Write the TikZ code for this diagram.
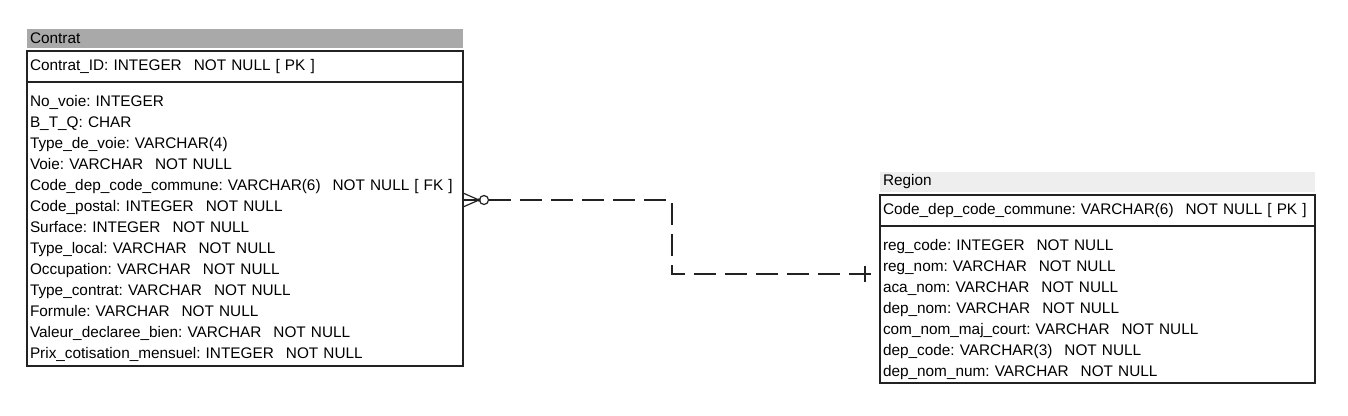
\documentclass[tikz,border=0pt]{standalone}
\usepackage{fontspec}
\setmainfont{Liberation Sans}
\usepackage{xcolor}
\usepackage{tikz}
\usetikzlibrary{positioning}

\definecolor{hdrdark}{HTML}{A9A9A9}
\definecolor{hdrlight}{HTML}{EEEEEE}
\definecolor{edge}{HTML}{222222}

% gaps between column parts, as the modelling tool prints them
\newcommand{\nullgap}{\hspace{12pt}}
\newcommand{\keygap}{\hspace{5pt}}
% first-row strut, pushes the column list down a little
\newcommand{\toprow}{\rule{0pt}{21pt}}

\begin{document}
\frenchspacing
\begin{tikzpicture}[
    x=1pt, y=-1pt,
    font=\fontsize{15.35}{21}\selectfont,
    node distance=3pt,
    tblhead/.style={anchor=north west, inner xsep=3pt, inner ysep=0pt,
                    outer sep=0pt, minimum height=19pt, text width=#1,
                    align=left},
    tblbox/.style={draw=edge, line width=1.3pt, inner xsep=3pt,
                   inner ysep=0pt, outer sep=0pt, text width=#1,
                   align=left},
    rel/.style={draw=edge, line width=1.2pt},
]
\useasboundingbox (0,0) rectangle (1348,415);

% table Contrat
\node[tblhead=430pt, fill=hdrdark] (chead) at (27,29) {Contrat};
\node[tblbox=430pt, minimum height=31pt, below=3pt of chead]
    (cpk) {Contrat\_ID: INTEGER\nullgap NOT NULL\keygap [ PK ]};
\node[tblbox=430pt, minimum height=284pt, below=0pt of cpk]
    (cattr) {\toprow No\_voie: INTEGER\\
             B\_T\_Q: CHAR\\
             Type\_de\_voie: VARCHAR(4)\\
             Voie: VARCHAR\nullgap NOT NULL\\
             Code\_dep\_code\_commune: VARCHAR(6)\nullgap NOT NULL\keygap [ FK ]\\
             Code\_postal: INTEGER\nullgap NOT NULL\\
             Surface: INTEGER\nullgap NOT NULL\\
             Type\_local: VARCHAR\nullgap NOT NULL\\
             Occupation: VARCHAR\nullgap NOT NULL\\
             Type\_contrat: VARCHAR\nullgap NOT NULL\\
             Formule: VARCHAR\nullgap NOT NULL\\
             Valeur\_declaree\_bien: VARCHAR\nullgap NOT NULL\\
             Prix\_cotisation\_mensuel: INTEGER\nullgap NOT NULL};

% table Region
\node[tblhead=429pt, fill=hdrlight, minimum height=20pt] (rhead) at (880,172) {Region};
\node[tblbox=429pt, minimum height=31pt, below=3pt of rhead]
    (rpk) {Code\_dep\_code\_commune: VARCHAR(6)\nullgap NOT NULL\keygap [ PK ]};
\node[tblbox=429pt, minimum height=157pt, below=0pt of rpk]
    (rattr) {\toprow reg\_code: INTEGER\nullgap NOT NULL\\
             reg\_nom: VARCHAR\nullgap NOT NULL\\
             aca\_nom: VARCHAR\nullgap NOT NULL\\
             dep\_nom: VARCHAR\nullgap NOT NULL\\
             com\_nom\_maj\_court: VARCHAR\nullgap NOT NULL\\
             dep\_code: VARCHAR(3)\nullgap NOT NULL\\
             dep\_nom\_num: VARCHAR\nullgap NOT NULL};

% relationship: zero or many Contrat -- one Region
\coordinate (cend) at ([yshift=24pt]cattr.east);
\coordinate (rend) at ([yshift=30.5pt]rattr.west);

\draw[rel] (cend) ++(0,-7) -- ++(16,7) -- ++(-16,7);
\draw[rel] (cend) -- ++(16,0);
\fill[edge] ([xshift=16pt]cend) circle[radius=1.8pt];
\draw[rel] ([xshift=21pt]cend) circle[radius=4.5pt];
\draw[rel, dash pattern=on 22pt off 9pt]
    ([xshift=26pt]cend) -| ([xshift=-208pt]rend) -- (rend);
\draw[rel] ([xshift=-15pt]rend) ++(0,-8) -- ++(0,16);
\end{tikzpicture}
\end{document}
